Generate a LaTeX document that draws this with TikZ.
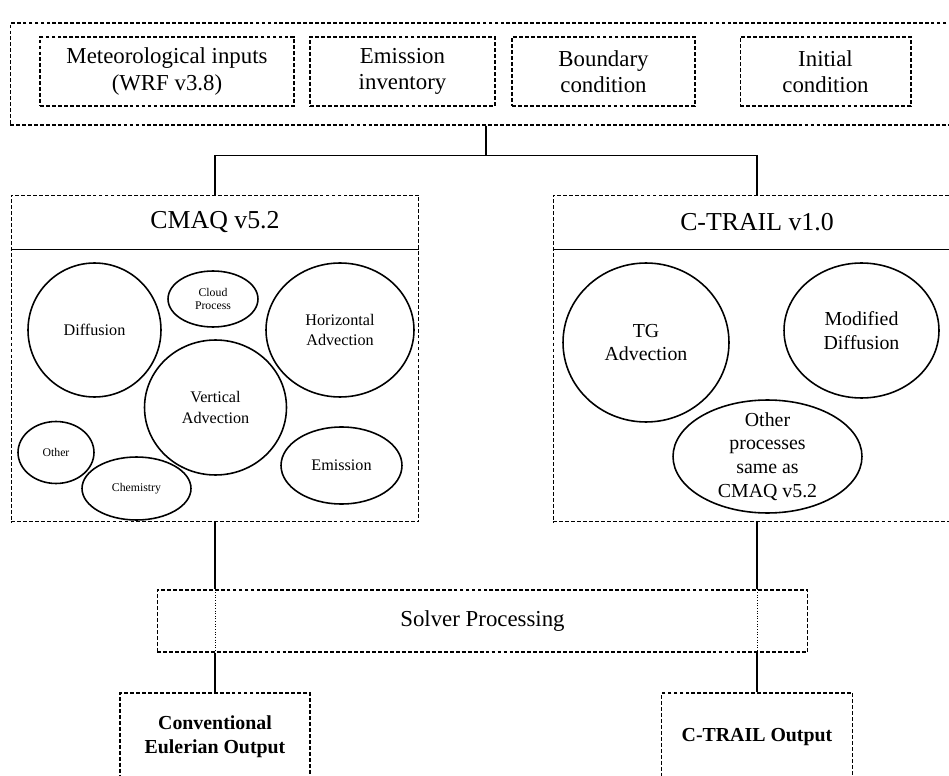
\documentclass[tikz,border=0pt]{standalone}
\usepackage{fontspec}
\setmainfont{Liberation Serif}
\usetikzlibrary{shapes.geometric}
\tikzstyle{every box} = [draw, line width=0.6pt, dash pattern=on 2.2pt off 1.2pt]
\tikzstyle{box} = [rectangle, every box, align=center, inner sep=0pt, font=\fontsize{13}{15}\selectfont]
\tikzstyle{title} = [font=\fontsize{14.7}{17}\selectfont]
\tikzstyle{proc} = [ellipse, draw, line width=0.9pt, align=center, inner sep=0pt, font=\fontsize{9.2}{11.5}\selectfont]
\tikzstyle{small proc} = [proc, font=\fontsize{6.7}{7.8}\selectfont]
\tikzstyle{trail proc} = [proc, font=\fontsize{11.3}{13.5}\selectfont]
\tikzstyle{link} = [draw, line width=0.7pt]
\tikzstyle{sep} = [draw, line width=1pt]

\begin{document}
\begin{tikzpicture}[x=0.02cm, y=-0.02cm]
                    \useasboundingbox (0,0) rectangle (949,776);
                    \clip (0,0) rectangle (949,776);

                    % inputs
                    \node[box, minimum width=19.04cm, minimum height=2.04cm] (inputs) at (486,74) {};
                    \node[box, minimum width=5.08cm, minimum height=1.38cm] (meteo) at (167,71.5) {Meteorological inputs\\(WRF v3.8)};
                    \node[box, minimum width=3.7cm, minimum height=1.38cm] (emis) at (402.5,71.5) {Emission\\inventory};
                    \node[box, minimum width=3.66cm, minimum height=1.38cm] (bound) at (603.5,71.5) {Boundary\\condition};
                    \node[box, minimum width=3.42cm, minimum height=1.38cm] (init) at (825.5,71.5) {Initial\\condition};

                    % CMAQ
                    \node[box, minimum width=8.16cm, minimum height=6.54cm] (cmaq) at (215,358.5) {};
                    \node[title] (cmaqt) at (215,222) {CMAQ v5.2};
                    \draw[sep] ([yshift=-1.1cm]cmaq.north west) -- ([yshift=-1.1cm]cmaq.north east);
                    \node[proc, minimum width=2.66cm, minimum height=2.68cm] (diff) at (94.5,330) {Diffusion};
                    \node[small proc, minimum width=1.8cm, minimum height=1.12cm] (cloud) at (213,299) {Cloud\\Process};
                    \node[proc, minimum width=2.96cm, minimum height=2.68cm] (hadv) at (340,330) {Horizontal\\Advection};
                    \node[proc, minimum width=2.84cm, minimum height=2.7cm] (vadv) at (215.5,407.5) {Vertical\\Advection};
                    \node[small proc, minimum width=1.52cm, minimum height=1.24cm] (other) at (56,452.5) {Other};
                    \node[small proc, minimum width=2.18cm, minimum height=1.26cm] (chem) at (136.5,488.5) {Chemistry};
                    \node[proc, minimum width=2.42cm, minimum height=1.54cm] (emission) at (341.5,465.5) {Emission};

                    % C-TRAIL
                    \node[box, minimum width=8.16cm, minimum height=6.54cm] (ctrail) at (757,358.5) {};
                    \node[title] (ctrailt) at (757,222) {C-TRAIL v1.0};
                    \draw[sep] ([yshift=-1.1cm]ctrail.north west) -- ([yshift=-1.1cm]ctrail.north east);
                    \node[trail proc, minimum width=3.32cm, minimum height=3.18cm] (tg) at (646,342.5) {TG\\Advection};
                    \node[trail proc, minimum width=3.1cm, minimum height=2.7cm] (moddiff) at (861.5,330.5) {Modified\\Diffusion};
                    \node[trail proc, inner ysep=-4pt, minimum width=3.78cm, minimum height=2.26cm] (same) at (767.5,456.5) {Other\\processes\\same as\\CMAQ v5.2};

                    % solver and outputs
                    \node[box, minimum width=13.02cm, minimum height=1.24cm] (solver) at (482.5,621) {Solver Processing};
                    \node[box, font=\fontsize{11.3}{13.6}\selectfont\bfseries, minimum width=3.8cm, minimum height=1.76cm] (outeul) at (215,737) {Conventional\\Eulerian Output};
                    \node[box, font=\fontsize{11.3}{13.6}\selectfont\bfseries, minimum width=3.82cm, minimum height=1.76cm] (outct) at (757,737) {C-TRAIL Output};

                    \draw[link] (inputs.south) -- ++(0,30) -| (cmaq.north);
                    \draw[link] (inputs.south) -- ++(0,30) -| (ctrail.north);
                    \draw[link] (cmaq.south) -- (cmaq.south |- solver.north);
                    \draw[densely dotted, line width=0.5pt] (cmaq.south |- solver.north) -- (cmaq.south |- solver.south);
                    \draw[link] (cmaq.south |- solver.south) -- (outeul.north);
                    \draw[link] (ctrail.south) -- (ctrail.south |- solver.north);
                    \draw[densely dotted, line width=0.5pt] (ctrail.south |- solver.north) -- (ctrail.south |- solver.south);
                    \draw[link] (ctrail.south |- solver.south) -- (outct.north);
                \end{tikzpicture}
\end{document}
